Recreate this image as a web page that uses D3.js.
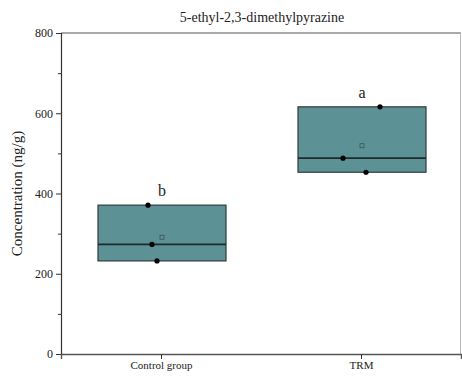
<!DOCTYPE html>
<html>
<head>
<meta charset="utf-8">
<script src="https://cdn.jsdelivr.net/npm/d3@7"></script>
<style>
  html, body { margin: 0; padding: 0; background: #fff; }
  svg { display: block; font-family: "Liberation Serif", "Times New Roman", serif; }
</style>
</head>
<body>
<svg id="chart" width="462" height="376"></svg>
<script>
// Box plot of 5-ethyl-2,3-dimethylpyrazine concentration per group
const categories = ["Control group", "TRM"];
const q1Values = [232, 453];
const medianValues = [273, 488];
const q3Values = [371, 616];
const meanValues = [291, 519];
const rawPoints = [
  [371, 273, 232],
  [616, 488, 453]
];
const pointOffsets = [[-14, -10, -5], [18, -19, 4]]; // horizontal jitter, px
const letters = ["b", "a"];
const yTicks = [0, 200, 400, 600, 800];
const yMinorTicks = [100, 300, 500, 700];

const margin = { left: 61, right: 1, top: 33, bottom: 22 };
const W = 462, H = 376;
const svg = d3.select("#chart");

const x = d3.scalePoint().domain(categories).range([margin.left, W - margin.right]).padding(0.5);
const y = d3.scaleLinear().domain([0, 800]).range([H - margin.bottom, margin.top]);
const boxW = x.step() * 0.64;
const fill = "#5c9295";

// frame (top and right in light grey)
svg.append("line").attr("x1", margin.left).attr("x2", W - margin.right)
  .attr("y1", y(800)).attr("y2", y(800)).attr("stroke", "#555").attr("stroke-width", 1.2);
svg.append("line").attr("x1", W - margin.right - 0.5).attr("x2", W - margin.right - 0.5)
  .attr("y1", y(800)).attr("y2", y(0)).attr("stroke", "#bbb").attr("stroke-width", 1);

const g = svg.append("g");
categories.forEach((c, i) => {
  const cx = x(c) + 1;
  g.append("rect")
    .attr("x", cx - boxW / 2).attr("width", boxW)
    .attr("y", y(q3Values[i])).attr("height", y(q1Values[i]) - y(q3Values[i]))
    .attr("fill", fill).attr("stroke", "#2f3b3c").attr("stroke-width", 1.2);
  g.append("line")
    .attr("x1", cx - boxW / 2).attr("x2", cx + boxW / 2)
    .attr("y1", y(medianValues[i])).attr("y2", y(medianValues[i]))
    .attr("stroke", "#1e2a2b").attr("stroke-width", 1.8);
  g.append("rect")
    .attr("x", cx - 2).attr("y", y(meanValues[i]) - 2)
    .attr("width", 4).attr("height", 4)
    .attr("fill", "none").attr("stroke", "#3a4a4b").attr("stroke-width", 0.7);
  rawPoints[i].forEach((v, j) => {
    g.append("circle").attr("cx", cx + pointOffsets[i][j]).attr("cy", y(v))
      .attr("r", 2.6).attr("fill", "#000");
  });
  g.append("text").attr("x", cx).attr("y", y(q3Values[i]) - 9)
    .attr("text-anchor", "middle").attr("font-size", 16).attr("fill", "#222")
    .text(letters[i]);
});

// axes
const yAxis = d3.axisLeft(y).tickValues(yTicks).tickSize(5).tickFormat(d3.format("d"));
const yg = svg.append("g").attr("transform", `translate(${margin.left},0)`).call(yAxis);
yg.select(".domain").attr("stroke", "#333").attr("stroke-width", 1.2);
yg.selectAll(".tick line").attr("stroke", "#333");
yg.selectAll("text").attr("font-size", 12).attr("fill", "#222").attr("font-family", "Liberation Serif");
svg.append("g").attr("transform", `translate(${margin.left},0)`)
  .call(d3.axisLeft(y).tickValues(yMinorTicks).tickSize(3).tickFormat(""))
  .call(s => s.select(".domain").remove())
  .selectAll("line").attr("stroke", "#333");

const xAxis = d3.axisBottom(x).tickSize(5);
const xg = svg.append("g").attr("transform", `translate(0,${y(0)})`).call(xAxis);
xg.select(".domain").attr("stroke", "#555").attr("stroke-width", 1.4);
xg.selectAll(".tick line").attr("stroke", "#333");
xg.selectAll("text").attr("font-size", 11).attr("fill", "#222").attr("dy", "0.6em").attr("font-family", "Liberation Serif");

// title and axis label
svg.append("text").attr("x", 262).attr("y", 22).attr("text-anchor", "middle")
  .attr("font-size", 14).attr("fill", "#222").text("5-ethyl-2,3-dimethylpyrazine");
svg.append("text").attr("transform", `translate(22,${(y(0) + y(800)) / 2}) rotate(-90)`)
  .attr("text-anchor", "middle").attr("font-size", 15).attr("fill", "#222")
  .text("Concentration (ng/g)");
</script>
</body>
</html>
